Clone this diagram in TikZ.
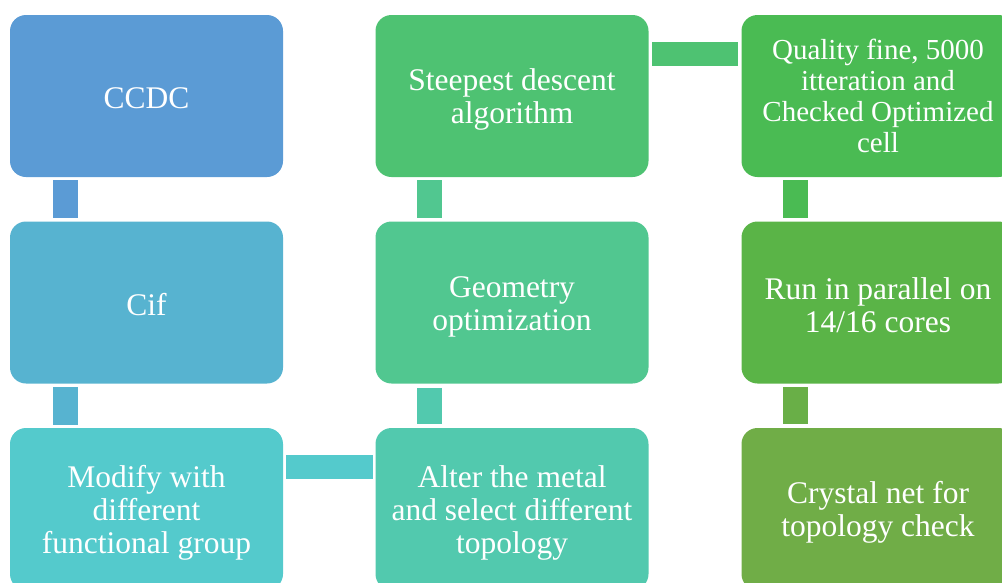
\documentclass[tikz,border=0pt]{standalone}
\usepackage{fontspec}
\setmainfont{Liberation Serif}
\usetikzlibrary{calc}
\definecolor{cA}{HTML}{5B9BD5}
\definecolor{cB}{HTML}{57B3D0}
\definecolor{cC}{HTML}{54CACC}
\definecolor{cD}{HTML}{52C9AE}
\definecolor{cE}{HTML}{51C790}
\definecolor{cF}{HTML}{4EC272}
\definecolor{cG}{HTML}{4ABB53}
\definecolor{cH}{HTML}{5AB447}
\definecolor{cI}{HTML}{70AD47}
\newcommand\lowtext[2]{\raisebox{-#1}[\height][\depth]{\parbox{266pt}{\centering #2}}}
\tikzset{
  stepbox/.style={rectangle, rounded corners=16pt, minimum width=273pt, minimum height=162pt,
    inner sep=0pt, text=white, font=\fontsize{31.5}{33}\selectfont},
  smalltext/.style={font=\fontsize{29}{31}\selectfont},
}
\begin{document}
\begin{tikzpicture}[x=1pt,y=-1pt]
\useasboundingbox (0,0) rectangle (1002,582);
\clip (0,0) rectangle (1002,582);
\node[stepbox, fill=cA] (a) at (146.5,96) {\lowtext{2.5pt}{CCDC}};
\node[stepbox, fill=cB] (b) at (146.5,302.5) {\lowtext{2pt}{Cif}};
\node[stepbox, fill=cC] (c) at (146.5,509) {\lowtext{4pt}{Modify with\\different\\functional group}};
\node[stepbox, fill=cD] (d) at (512,509) {\lowtext{4pt}{Alter the metal\\and select different\\topology}};
\node[stepbox, fill=cE] (e) at (512,302.5) {\lowtext{4pt}{Geometry\\optimization}};
\node[stepbox, fill=cF] (f) at (512,96) {\lowtext{3pt}{Steepest descent\\algorithm}};
\node[stepbox, smalltext, fill=cG] (g) at (878,96) {\lowtext{0pt}{Quality fine, 5000\\itteration and\\Checked Optimized\\cell}};
\node[stepbox, fill=cH] (h) at (878,302.5) {\lowtext{3pt}{Run in parallel on\\14/16 cores}};
\node[stepbox, fill=cI] (i) at (878,509) {\lowtext{3pt}{Crystal net for\\topology check}};
% connectors
\fill[cA] ($(a.south west)+(43,3)$) rectangle ($(b.north west)+(68,-3)$);
\fill[cB] ($(b.south west)+(43,3)$) rectangle ($(c.north west)+(68,-3)$);
\fill[cC] ($(c.north east)+(3,27)$) rectangle ($(d.north west)+(-2,51)$);
\fill[cD] ($(d.north west)+(42,-4)$) rectangle ($(e.south west)+(67,4)$);
\fill[cE] ($(e.north west)+(42,-3)$) rectangle ($(f.south west)+(67,3)$);
\fill[cF] ($(f.north east)+(3,27)$) rectangle ($(g.north west)+(-3,51)$);
\fill[cG] ($(g.south west)+(42,3)$) rectangle ($(h.north west)+(67,-3)$);
\fill[cI!70!cH] ($(h.south west)+(42,3)$) rectangle ($(i.north west)+(67,-4)$);
\end{tikzpicture}
\end{document}
